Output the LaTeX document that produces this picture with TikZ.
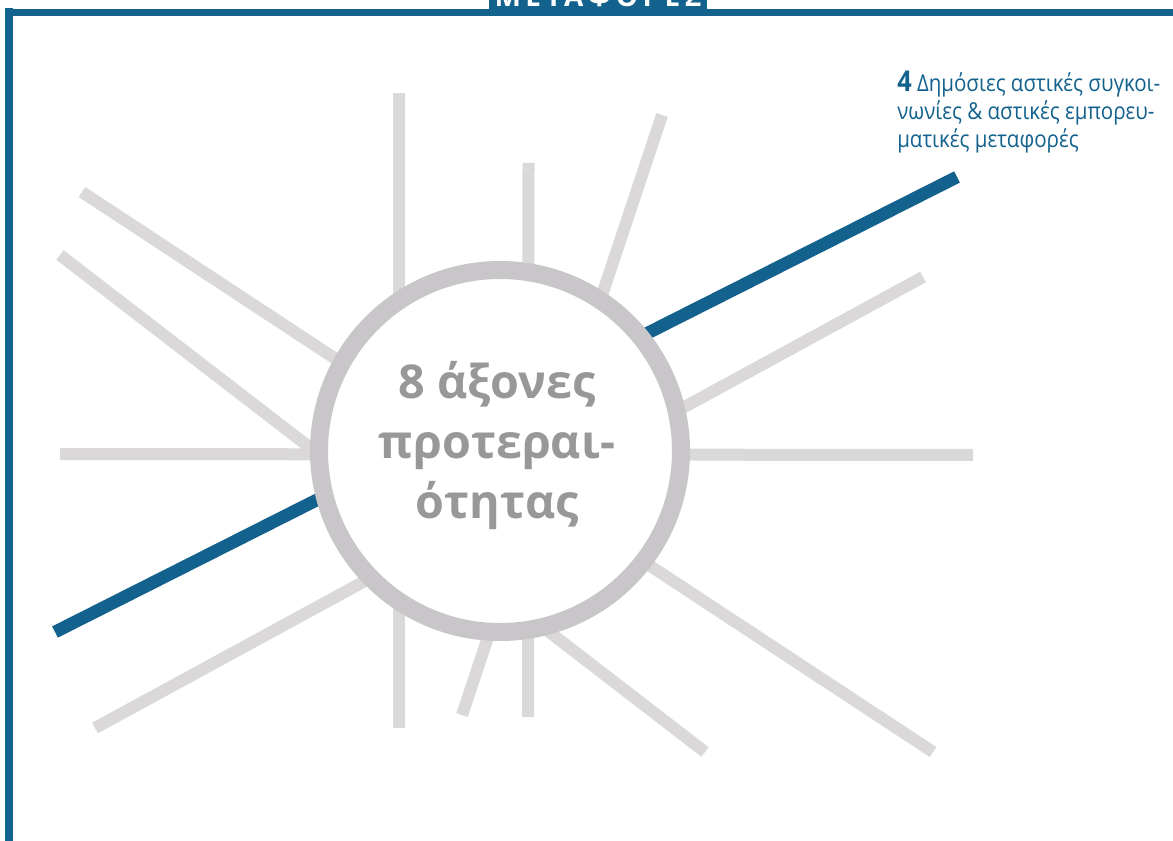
\documentclass[tikz,border=0pt]{standalone}
\usepackage{fontspec}
\setmainfont{Open Sans}
\newfontfamily\tabfont[LetterSpace=16]{Open Sans}
\newfontfamily\capfont[FakeStretch=0.88]{Open Sans}
\definecolor{frameblue}{RGB}{19,98,142}
\definecolor{axisgray}{RGB}{218,216,217}
\definecolor{ringgray}{RGB}{200,198,200}
\definecolor{titlegray}{RGB}{152,152,152}
\tikzset{
  axis/.style={draw=axisgray, line width=9pt, line cap=butt},
  highlight/.style={draw=frameblue, line width=9.5pt, line cap=butt},
  hub/.style={circle, draw=ringgray, line width=13.5pt, fill=white,
    minimum size=271.5pt, inner sep=0pt},
  hubtext/.style={text=titlegray, font=\fontsize{35}{45}\selectfont\bfseries,
    align=center, inner sep=0pt},
  caption/.style={text=frameblue, font=\capfont\fontsize{17.5}{20.8}\selectfont,
    align=left, anchor=north west, inner sep=0pt},
  bar/.style={fill=frameblue, draw=none}
}
\begin{document}
\begin{tikzpicture}[x=0.75pt, y=-0.75pt]
  \useasboundingbox (0,0) rectangle (1173,841);
  \clip (0,0) rectangle (1173,841);
  \fill[white] (0,0) rectangle (1173,841);

  % frame: left rule, top rule and the tab in the middle of the top rule
  \fill[bar] (5,8) rectangle (13,841);
  \fill[bar] (5,9) rectangle (1173,16);
  \fill[bar] (489,0) rectangle (707,9);
  \node[text=white, font=\tabfont\fontsize{21}{21}\selectfont\bfseries,
    anchor=base, inner sep=0pt] (tab) at (598,7) {ΜΕΤΑΦΟΡΕΣ};

  % end points of the eight axes
  \coordinate (v1a) at (399,93);   \coordinate (v1b) at (399,728);
  \coordinate (v2a) at (528.5,163); \coordinate (v2b) at (528,717);
  \coordinate (h1a) at (60,454);   \coordinate (h1b) at (973,455);
  \coordinate (d1a) at (82,192);   \coordinate (d1b) at (933,752);
  \coordinate (d2a) at (60,255);   \coordinate (d2b) at (705,752);
  \coordinate (s1a) at (662,115);  \coordinate (s1b) at (462,715);
  \coordinate (r1a) at (923,277);  \coordinate (r1b) at (95,728);
  \coordinate (b1a) at (957,177);  \coordinate (b1b) at (55,632);

  % axes
  \draw[axis] (v1a) -- (v1b);
  \draw[axis] (v2a) -- (v2b);
  \draw[axis] (h1a) -- (h1b);
  \draw[axis] (d1a) -- (d1b);
  \draw[axis] (d2a) -- (d2b);
  \draw[axis] (s1a) -- (s1b);
  \draw[axis] (r1a) -- (r1b);
  \draw[highlight] (b1a) -- (b1b);

  % central hub
  \node[hub] (hub) at (500,451) {};
  \node[hubtext] (title) at (497,446) {8 άξονες\\προτεραι-\\ότητας};

  % caption of the highlighted axis
  \node[caption] (cap) at (897,71)
    {{\fontsize{21.5}{20.8}\selectfont\bfseries 4} Δημόσιες αστικές συγκοι-\\
     νωνίες \& αστικές εμπορευ-\\
     ματικές μεταφορές};
\end{tikzpicture}
\end{document}
